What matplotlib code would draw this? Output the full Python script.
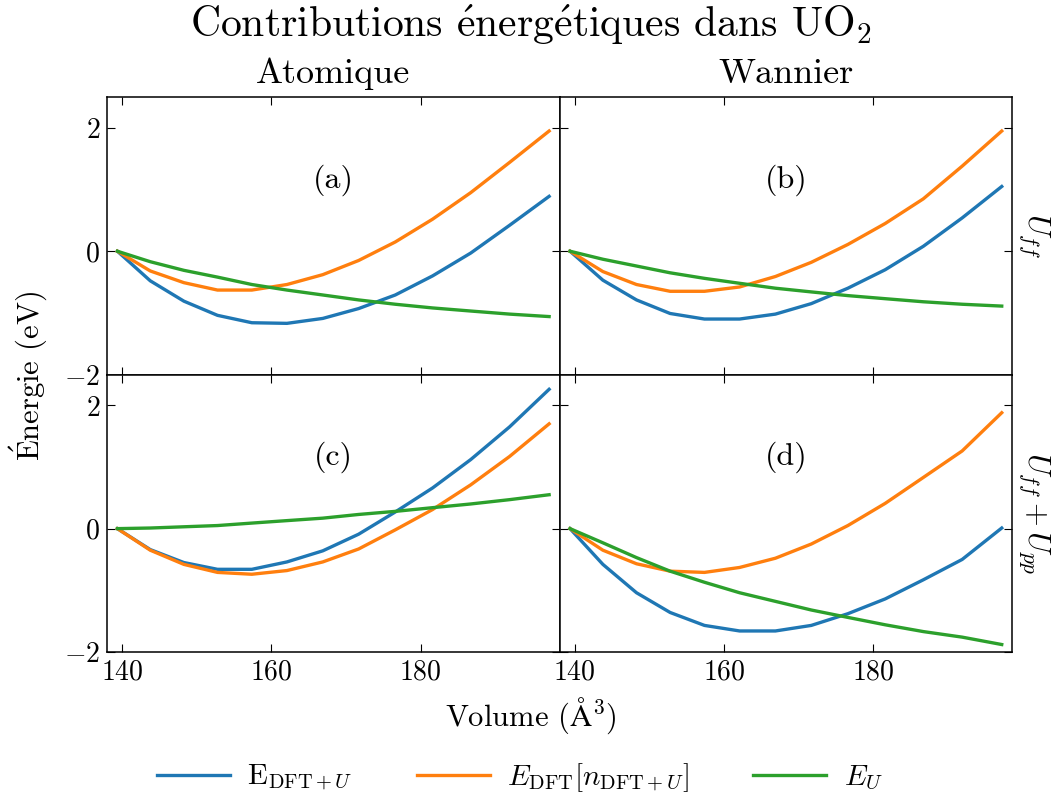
import matplotlib
matplotlib.use("Agg")
import matplotlib.pyplot as plt

plt.rcParams.update({
    "font.family": "serif",
    "font.serif": ["cmr10"],
    "mathtext.fontset": "cm",
    "axes.formatter.use_mathtext": True,
    "axes.unicode_minus": True,
    "xtick.direction": "in",
    "ytick.direction": "in",
    "xtick.top": True,
    "ytick.right": True,
    "xtick.major.size": 6,
    "ytick.major.size": 6,
    "axes.linewidth": 1.1,
})

volume = [139.4, 143.8, 148.3, 152.8, 157.4, 162.1, 166.9, 171.7, 176.6, 181.6, 186.7, 191.9, 197.2]

# (a) Atomique, U_ff
a_edftu = [0, -0.48, -0.81, -1.04, -1.16, -1.17, -1.09, -0.93, -0.71, -0.40, -0.03, 0.42, 0.89]
a_edft = [0, -0.32, -0.51, -0.63, -0.63, -0.54, -0.38, -0.15, 0.15, 0.52, 0.95, 1.44, 1.95]
a_eu = [0, -0.17, -0.31, -0.42, -0.54, -0.63, -0.71, -0.79, -0.86, -0.92, -0.97, -1.02, -1.06]

# (b) Wannier, U_ff
b_edftu = [0, -0.47, -0.79, -1.01, -1.10, -1.10, -1.02, -0.85, -0.60, -0.30, 0.08, 0.54, 1.05]
b_edft = [0, -0.33, -0.54, -0.65, -0.65, -0.58, -0.41, -0.18, 0.11, 0.45, 0.85, 1.38, 1.95]
b_eu = [0, -0.13, -0.24, -0.35, -0.44, -0.52, -0.60, -0.66, -0.72, -0.77, -0.82, -0.86, -0.89]

# (c) Atomique, U_ff + U_pp
c_edftu = [0, -0.34, -0.55, -0.66, -0.66, -0.54, -0.36, -0.09, 0.27, 0.66, 1.12, 1.65, 2.26]
c_edft = [0, -0.35, -0.58, -0.71, -0.74, -0.68, -0.54, -0.33, -0.02, 0.31, 0.71, 1.17, 1.70]
c_eu = [0, 0.01, 0.03, 0.05, 0.09, 0.13, 0.17, 0.23, 0.28, 0.34, 0.40, 0.47, 0.55]

# (d) Wannier, U_ff + U_pp
d_edftu = [0, -0.58, -1.04, -1.36, -1.57, -1.66, -1.66, -1.57, -1.38, -1.14, -0.83, -0.50, 0.01]
d_edft = [0, -0.35, -0.57, -0.69, -0.71, -0.63, -0.48, -0.25, 0.05, 0.41, 0.83, 1.26, 1.88]
d_eu = [0, -0.23, -0.47, -0.69, -0.87, -1.04, -1.18, -1.32, -1.44, -1.56, -1.67, -1.76, -1.88]

panels = [
    ("(a)", a_edftu, a_edft, a_eu),
    ("(b)", b_edftu, b_edft, b_eu),
    ("(c)", c_edftu, c_edft, c_eu),
    ("(d)", d_edftu, d_edft, d_eu),
]
labels = [r"E$_{\mathrm{DFT}+U}$", r"$E_{\mathrm{DFT}}[n_{\mathrm{DFT}+U}]$", r"$E_U$"]
colors = ["#1f77b4", "#ff7f0e", "#2ca02c"]
col_titles = ["Atomique", "Wannier"]
row_titles = [r"$U_{ff}$", r"$U_{ff}+U_{pp}$"]
xticks = [140, 160, 180]
yticks = [-2, 0, 2]

fig, axes = plt.subplots(2, 2, figsize=(10.61, 7.96), dpi=100, sharex=True, sharey=True)
fig.subplots_adjust(left=0.1008, right=0.954, top=0.878, bottom=0.181, wspace=0, hspace=0)

handles = None
for ax, (tag, e1, e2, e3) in zip(axes.flat, panels):
    h1, = ax.plot(volume, e1, color=colors[0], lw=2.4)
    h2, = ax.plot(volume, e2, color=colors[1], lw=2.4)
    h3, = ax.plot(volume, e3, color=colors[2], lw=2.4)
    handles = [h1, h2, h3]
    ax.text(0.5, 0.70, tag, transform=ax.transAxes, ha="center", va="center", fontsize=23)
    ax.set_xlim(138.0, 198.6)
    ax.set_ylim(-2, 2.5)
    ax.set_xticks(xticks)
    ax.set_yticks(yticks)
    ax.tick_params(labelsize=20, pad=5)

for ax in axes[1, :]:
    ax.tick_params(labelbottom=True)
axes[0, 1].tick_params(labelleft=False)
axes[1, 1].tick_params(labelleft=False)

for j, t in enumerate(col_titles):
    axes[0, j].set_title(t, fontsize=26, pad=10)
for i, t in enumerate(row_titles):
    axes[i, 1].text(1.05, 0.5, t, transform=axes[i, 1].transAxes, rotation=270,
                    ha="center", va="center", fontsize=22)

fig.suptitle(r"Contributions $\mathrm{\acute{e}}$nerg$\mathrm{\acute{e}}$tiques dans UO$_2$",
             fontsize=30, y=0.997)
fig.text(0.027, 0.527, r"$\mathrm{\acute{E}}$nergie (eV)", fontsize=22, rotation=90,
         ha="center", va="center")
fig.supxlabel(r"Volume ($\mathrm{\AA}^3$)", fontsize=22, y=0.075)
fig.legend(handles, labels, loc="lower center", ncol=3, frameon=False, fontsize=21,
           bbox_to_anchor=(0.49, -0.03), handlelength=2.5, handletextpad=0.6,
           columnspacing=2.2)

fig.savefig("out.png", dpi=100)
